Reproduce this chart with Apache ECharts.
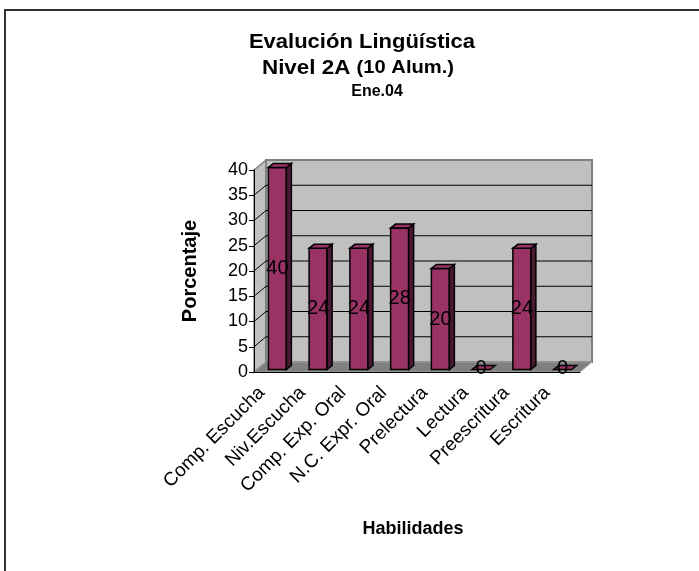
<!DOCTYPE html>
<html>
<head>
<meta charset="utf-8">
<script src="https://cdn.jsdelivr.net/npm/echarts@6/dist/echarts.min.js"></script>
<style>
  html, body { margin: 0; padding: 0; background: #fff; }
</style>
</head>
<body>
<div id="myChart" style="width:699px;height:571px;"></div>
<script>
// datos del grafico
var categorias = ['Comp. Escucha', 'Niv.Escucha', 'Comp. Exp. Oral', 'N.C. Expr. Oral', 'Prelectura', 'Lectura', 'Preescritura', 'Escritura'];
var porcentajes = [40, 24, 24, 28, 20, 0, 24, 0];
var marcasY = [0, 5, 10, 15, 20, 25, 30, 35, 40];

var fuente = '"Liberation Sans", Arial, sans-serif';
var prof = [12, -10];   // profundidad de las paredes (efecto 3D)
var profBarra = [5, -4];

// paredes, suelo y lineas de division
function dibujarParedes(params, api) {
    var bw = api.size([1, 0])[0];
    var x0 = api.coord([0, 0])[0] - bw / 2;
    var x1 = x0 + bw * categorias.length;
    var y0 = api.coord([0, 0])[1];
    var yT = api.coord([0, marcasY[marcasY.length - 1]])[1];
    var dx = prof[0], dy = prof[1];
    var hijos = [
        { type: 'polygon', shape: { points: [[x0, y0], [x0 + dx, y0 + dy], [x0 + dx, yT + dy], [x0, yT]] },
          style: { fill: '#c0c0c0', stroke: '#808080', lineWidth: 1.5 } },
        { type: 'rect', shape: { x: x0 + dx, y: yT + dy, width: x1 - x0, height: y0 - yT },
          style: { fill: '#c0c0c0', stroke: '#808080', lineWidth: 2 } },
        { type: 'polygon', shape: { points: [[x0, y0], [x1, y0], [x1 + dx, y0 + dy], [x0 + dx, y0 + dy]] },
          style: { fill: '#808080', stroke: '#a0a0a0', lineWidth: 1 } }
    ];
    for (var k = 1; k < marcasY.length - 1; k++) {
        var y = api.coord([0, marcasY[k]])[1];
        hijos.push({ type: 'line', shape: { x1: x0, y1: y, x2: x0 + dx, y2: y + dy }, style: { stroke: '#000', lineWidth: 1 } });
        hijos.push({ type: 'line', shape: { x1: x0 + dx, y1: y + dy, x2: x1 + dx, y2: y + dy }, style: { stroke: '#000', lineWidth: 1 } });
    }
    return { type: 'group', children: hijos };
}

// barras 3D
function dibujarBarra(params, api) {
    var i = api.value(0), v = api.value(1);
    var arriba = api.coord([i, v]);
    var base = api.coord([i, 0]);
    var cx = arriba[0] + 3;
    var hw = 9;
    var xl = cx - hw, xr = cx + hw;
    var yt = arriba[1] - 2.5, yb = base[1] - 2.5;
    var dx = profBarra[0], dy = profBarra[1];
    var hijos = [];
    if (v > 0) {
        hijos.push({ type: 'rect', shape: { x: xl, y: yt, width: xr - xl, height: yb - yt },
            style: { fill: '#993366', stroke: '#000', lineWidth: 1.5 } });
        hijos.push({ type: 'polygon', shape: { points: [[xr, yt], [xr + dx, yt + dy], [xr + dx, yb + dy], [xr, yb]] },
            style: { fill: '#4c1933', stroke: '#000', lineWidth: 1.5 } });
    }
    hijos.push({ type: 'polygon', shape: { points: [[xl, yt], [xr, yt], [xr + dx, yt + dy], [xl + dx, yt + dy]] },
        style: { fill: '#993366', stroke: '#000', lineWidth: 1.5 } });
    hijos.push({ type: 'text', x: cx, y: v > 0 ? (yt + yb) / 2 : yb - 1,
        style: { text: String(v), fill: '#000', font: '20px ' + fuente, align: 'center', verticalAlign: 'middle' } });
    return { type: 'group', children: hijos };
}

var chart = echarts.init(document.getElementById('myChart'));
chart.setOption({
    backgroundColor: '#fff',
    animation: false,
    grid: { left: 254, right: 119, top: 170, bottom: 199 },
    graphic: [
        { type: 'rect', shape: { x: 5, y: 10, width: 720, height: 600 }, style: { fill: 'none', stroke: '#333', lineWidth: 2 } },
        { type: 'text', x: 362, y: 42, scaleX: 1.1, style: { text: 'Evalución Lingüística', font: 'bold 20px ' + fuente, fill: '#000', align: 'center', verticalAlign: 'middle' } },
        { type: 'text', x: 358, y: 68, scaleX: 1.12, style: { text: '{a|Nivel 2A }{b|(10 Alum.)}', align: 'center', verticalAlign: 'middle',
            rich: { a: { font: 'bold 20px ' + fuente, fill: '#000' }, b: { font: 'bold 18px ' + fuente, fill: '#000' } } } },
        { type: 'text', x: 377, y: 92, style: { text: 'Ene.04', font: 'bold 16px ' + fuente, fill: '#000', align: 'center', verticalAlign: 'middle' } }
    ],
    xAxis: {
        type: 'category',
        data: categorias,
        z: 5,
        name: 'Habilidades',
        nameLocation: 'middle',
        nameGap: 148,
        nameTextStyle: { fontFamily: fuente, fontSize: 18, fontWeight: 'bold', color: '#000', padding: [0, 8, 0, 0] },
        axisLine: { lineStyle: { color: '#000', width: 1 } },
        axisTick: { length: 5, lineStyle: { color: '#000' } },
        axisLabel: { rotate: 45, margin: 5, padding: [0, 18, 0, 0], interval: 0, fontFamily: fuente, fontSize: 19, color: '#000' },
        splitLine: { show: false }
    },
    yAxis: {
        type: 'value',
        min: 0,
        max: 40,
        interval: 5,
        z: 5,
        name: 'Porcentaje',
        nameLocation: 'middle',
        nameGap: 54,
        nameTextStyle: { fontFamily: fuente, fontSize: 20, fontWeight: 'bold', color: '#000' },
        axisLine: { show: true, lineStyle: { color: '#000', width: 1 } },
        axisTick: { show: true, length: 5, lineStyle: { color: '#000' } },
        axisLabel: { margin: 6, fontFamily: fuente, fontSize: 18, color: '#000' },
        splitLine: { show: false }
    },
    series: [
        {
            type: 'custom',
            name: 'paredes',
            z: 1,
            clip: false,
            silent: true,
            renderItem: dibujarParedes,
            data: [[0, 0]],
            encode: { x: 0, y: 1 }
        },
        {
            type: 'custom',
            name: 'Porcentaje',
            z: 3,
            clip: false,
            renderItem: dibujarBarra,
            data: porcentajes.map(function (v, i) { return [i, v]; }),
            encode: { x: 0, y: 1 }
        }
    ]
});
</script>
</body>
</html>
